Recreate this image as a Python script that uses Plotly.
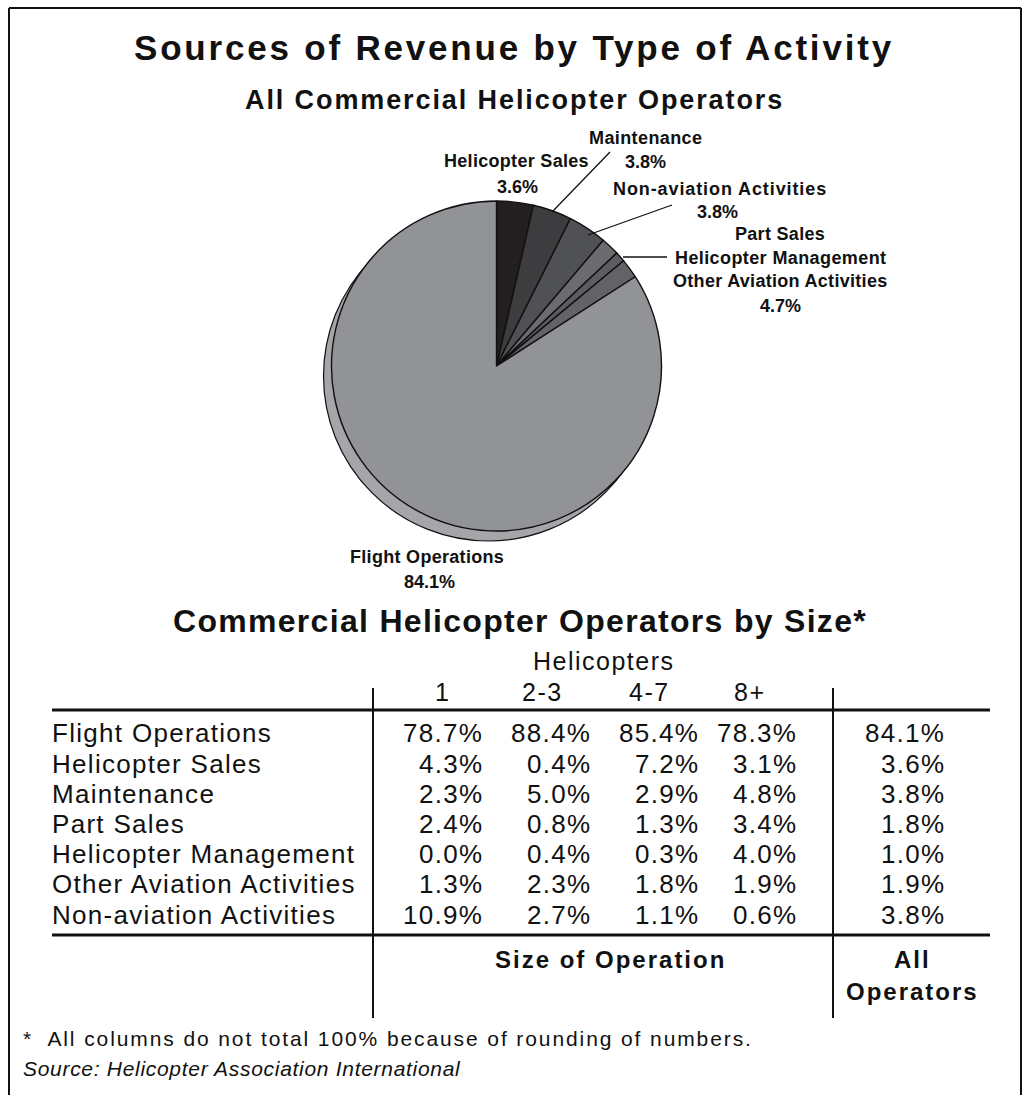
import plotly.graph_objects as go

# ---- data -------------------------------------------------------------
pie_labels = ["Helicopter Sales", "Maintenance", "Non-aviation Activities",
              "Part Sales", "Helicopter Management", "Other Aviation Activities",
              "Flight Operations"]
pie_values = [3.6, 3.8, 3.8, 1.8, 1.0, 1.9, 84.1]
pie_colors = ["#231f20", "#3d3d40", "#505155", "#6b6c70", "#5c5d61", "#626367", "#929397"]

row_labels = ["Flight Operations", "Helicopter Sales", "Maintenance", "Part Sales",
              "Helicopter Management", "Other Aviation Activities", "Non-aviation Activities"]
size_headers = ["1", "2-3", "4-7", "8+"]
size_1 = [78.7, 4.3, 2.3, 2.4, 0.0, 1.3, 10.9]
size_2_3 = [88.4, 0.4, 5.0, 0.8, 0.4, 2.3, 2.7]
size_4_7 = [85.4, 7.2, 2.9, 1.3, 0.3, 1.8, 1.1]
size_8p = [78.3, 3.1, 4.8, 3.4, 4.0, 1.9, 0.6]
all_ops = [84.1, 3.6, 3.8, 1.8, 1.0, 1.9, 3.8]

W, H = 1028, 1095
FONT = "Liberation Sans, Arial, Helvetica, sans-serif"


def px(x):
    return x / W


def py(y):
    return 1 - y / H


fig = go.Figure()

# ---- pie with drop shadow ----------------------------------------------
cx, cy, r = 496.5, 366, 165
sdx, sdy = -8, 10
fig.add_trace(go.Pie(
    values=[100], labels=["shadow"], sort=False, textinfo="none", hoverinfo="skip",
    marker=dict(colors=["#a5a6aa"], line=dict(color="#111", width=1.2)),
    domain=dict(x=[px(cx + sdx - r), px(cx + sdx + r)], y=[py(cy + sdy + r), py(cy + sdy - r)]),
    showlegend=False,
))
fig.add_trace(go.Pie(
    values=pie_values, labels=pie_labels, sort=False, direction="clockwise", rotation=0,
    textinfo="none", hoverinfo="label+percent",
    marker=dict(colors=pie_colors, line=dict(color="#111", width=1.4)),
    domain=dict(x=[px(cx - r), px(cx + r)], y=[py(cy + r), py(cy - r)]),
    showlegend=False,
))

ann = []


def text(x, y, s, size, bold=False, italic=False, anchor="center", ls=0.0):
    body = s if not ls else f'<span style="letter-spacing:{ls}px">{s}</span>'
    ann.append(dict(
        x=px(x), y=py(y), xref="paper", yref="paper", text=body, showarrow=False,
        xanchor=anchor, yanchor="middle",
        font=dict(family=FONT, size=size, color="#111",
                  weight="bold" if bold else "normal",
                  style="italic" if italic else "normal"),
    ))


def pct(v):
    return f"{v:.1f}%"


# titles
text(514, 47, "Sources of Revenue by Type of Activity", 35, bold=True, ls=2.8)
text(514, 100, "All Commercial Helicopter Operators", 27, bold=True, ls=1.9)

# pie labels
lab = 18
text(516, 161, pie_labels[0], lab, bold=True, ls=0.3)
text(645, 138, pie_labels[1], lab, bold=True, ls=0.4)
text(645, 162, pct(pie_values[1]), lab, bold=True)
text(517, 187, pct(pie_values[0]), lab, bold=True)
text(720, 189, pie_labels[2], lab, bold=True, ls=0.9)
text(717, 212, pct(pie_values[2]), lab, bold=True)
group = pie_values[3] + pie_values[4] + pie_values[5]
text(780, 234, pie_labels[3], lab, bold=True, ls=0.3)
text(780, 258, pie_labels[4], lab, bold=True, ls=0.4)
text(780, 281, pie_labels[5], lab, bold=True, ls=0.3)
text(780, 306, pct(group), lab, bold=True)
text(427, 557, pie_labels[6], lab, bold=True, ls=0.3)
text(429, 582, pct(pie_values[6]), lab, bold=True)

# table
text(520, 621, "Commercial Helicopter Operators by Size*", 32, bold=True, ls=1.3)
text(604, 661, "Helicopters", 25, ls=1.5)
col_centers = [442, 542, 649, 750]
for c, h in zip(col_centers, size_headers):
    text(c, 692, h, 25, ls=1.5)

body = 26
ls_body = 1.3
row_y = [733, 763.5, 794, 824, 854, 884, 914.5]
col_right = [484, 592, 700, 798, 946]
cols = [size_1, size_2_3, size_4_7, size_8p, all_ops]
for i, name in enumerate(row_labels):
    text(50, row_y[i], name, body, anchor="left", ls=ls_body)
    for xr, col in zip(col_right, cols):
        text(xr + ls_body, row_y[i], pct(col[i]), body, anchor="right", ls=ls_body)

text(610, 959, "Size of Operation", 24, bold=True, ls=2)
text(912, 959, "All", 24, bold=True, ls=2)
text(912, 991, "Operators", 24, bold=True, ls=2)

text(21, 1038, "*  All columns do not total 100% because of rounding of numbers.", 21, anchor="left", ls=1.9)
text(21, 1068, "Source: Helicopter Association International", 21, italic=True, anchor="left", ls=0.7)

# ---- lines ------------------------------------------------------------
shapes = []


def line(x0, y0, x1, y1, w=1.5):
    shapes.append(dict(type="line", xref="paper", yref="paper",
                       x0=px(x0), y0=py(y0), x1=px(x1), y1=py(y1),
                       line=dict(color="#111", width=w)))


# leader lines
line(552, 212, 610, 152, 1.3)
line(588, 235, 672, 205, 1.3)
line(623, 257, 667, 257, 1.3)

# table rules
line(52, 710, 990, 710, 3)
line(52, 935, 990, 935, 3)
line(373, 688, 373, 1018, 2)
line(833, 688, 833, 1018, 2)

# outer frame (open at the bottom edge of the page)
line(9, 8, 1021, 8, 2)
line(9, 8, 9, 1100, 2)
line(1021, 8, 1021, 1100, 2)

fig.update_layout(
    width=W, height=H, margin=dict(l=0, r=0, t=0, b=0),
    paper_bgcolor="white", plot_bgcolor="white",
    annotations=ann, shapes=shapes, showlegend=False,
)

fig.write_html("out.html")
